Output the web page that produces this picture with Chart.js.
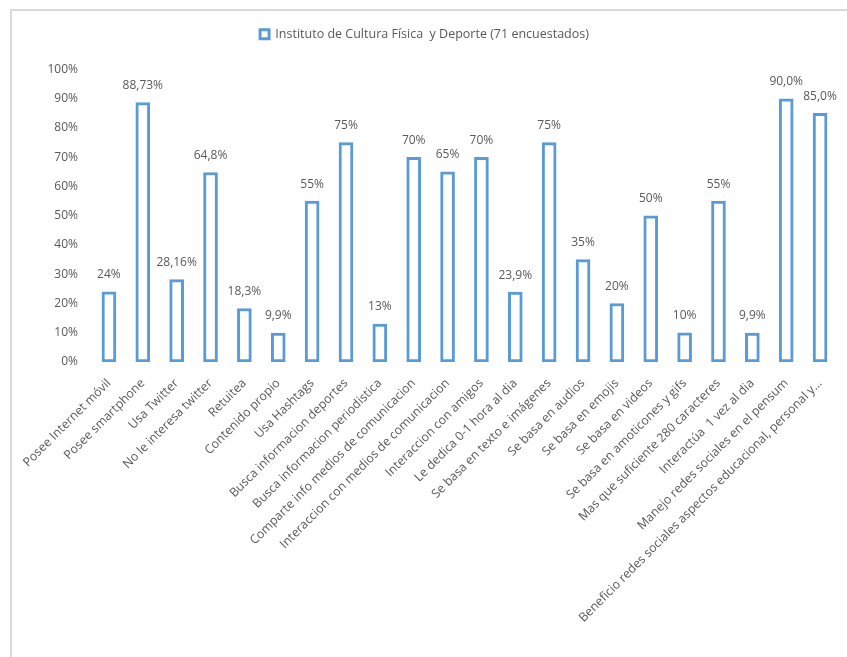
<!DOCTYPE html>
<html>
<head>
<meta charset="utf-8">
<script src="https://cdn.jsdelivr.net/npm/chart.js@4/dist/chart.umd.min.js"></script>
<style>
  html, body { margin: 0; padding: 0; background: #fff; }
  .frame {
    position: absolute; left: 10px; top: 9px;
    width: 835px; height: 646px;
    border-left: 2px solid #d9d9d9; border-top: 2px solid #d9d9d9;
  }
  canvas { display: block; }
</style>
</head>
<body>
<div class="frame"><canvas id="chart" width="835" height="646"></canvas></div>
<script>
"use strict";

// ---------------- data ----------------
const categories = [
  "Posee Internet móvil",
  "Posee smartphone",
  "Usa Twitter",
  "No le interesa twitter",
  "Retuitea",
  "Contenido propio",
  "Usa Hashtags",
  "Busca informacion deportes",
  "Busca informacion periodistica",
  "Comparte info medios de comunicacion",
  "Interaccion con medios de comunicacion",
  "Interaccion con amigos",
  "Le dedica 0-1 hora al dia",
  "Se basa en texto e imágenes",
  "Se basa en audios",
  "Se basa en emojis",
  "Se basa en videos",
  "Se basa en amoticones y gifs",
  "Mas que suficiente 280 caracteres",
  "Interactúa  1 vez al dia",
  "Manejo redes sociales en el pensum",
  "Beneficio redes sociales aspectos educacional, personal y..."
];
const values = [24, 88.73, 28.16, 64.8, 18.3, 9.9, 55, 75, 13, 70, 65, 70, 23.9, 75, 35, 20, 50, 10, 55, 9.9, 90, 85];
const valueLabels = ["24%", "88,73%", "28,16%", "64,8%", "18,3%", "9,9%", "55%", "75%", "13%", "70%", "65%",
  "70%", "23,9%", "75%", "35%", "20%", "50%", "10%", "55%", "9,9%", "90,0%", "85,0%"];
const yTicks = [0, 10, 20, 30, 40, 50, 60, 70, 80, 90, 100];
const seriesName = "Instituto de Cultura Física  y Deporte (71 encuestados)";

const textColor = "#595959";
const blue = "#5B9BD5";
const fontFamily = "'Open Sans', sans-serif";

// draws the value text above each bar
const barLabels = {
  id: "barLabels",
  afterDatasetsDraw(chart) {
    let ctx = chart.ctx;
    let meta = chart.getDatasetMeta(0);
    ctx.save();
    ctx.font = "12px " + fontFamily;
    ctx.fillStyle = textColor;
    ctx.textAlign = "center";
    ctx.textBaseline = "middle";
    meta.data.forEach((bar, i) => {
      ctx.fillText(valueLabels[i], bar.x, bar.y - 17);
    });
    ctx.restore();
  }
};

new Chart(document.getElementById("chart"), {
  type: "bar",
  data: {
    labels: categories,
    datasets: [{
      label: seriesName,
      data: values,
      backgroundColor: "#ffffff",
      borderColor: blue,
      borderWidth: 3,
      borderSkipped: false,
      barThickness: 14
    }]
  },
  options: {
    responsive: false,
    animation: false,
    layout: { padding: { top: 7, right: 10, left: 0, bottom: 0 } },
    plugins: {
      legend: {
        labels: {
          color: textColor,
          font: { family: fontFamily, size: 12.5 },
          boxWidth: 9,
          boxHeight: 9,
          padding: 10
        }
      },
      // empty subtitle used as a spacer between legend and plot
      subtitle: {
        display: true,
        text: "",
        weight: 500,
        font: { size: 1, lineHeight: 1 },
        padding: { top: 0, bottom: 18 }
      },
      tooltip: { enabled: false }
    },
    scales: {
      x: {
        grid: { display: false },
        border: { display: false },
        ticks: {
          color: textColor,
          font: { family: fontFamily, size: 12.3 },
          minRotation: 45,
          maxRotation: 45,
          autoSkip: false,
          padding: 6
        },
        afterFit(scale) { scale.height = 295; }
      },
      y: {
        min: 0,
        max: 100,
        grid: { display: false },
        border: { display: false },
        afterBuildTicks(scale) { scale.ticks = yTicks.map(v => ({ value: v })); },
        ticks: {
          color: textColor,
          font: { family: fontFamily, size: 12 },
          padding: 6,
          callback: v => v + "%"
        },
        afterFit(scale) { scale.width = 80; }
      }
    }
  },
  plugins: [barLabels]
});
</script>
</body>
</html>
